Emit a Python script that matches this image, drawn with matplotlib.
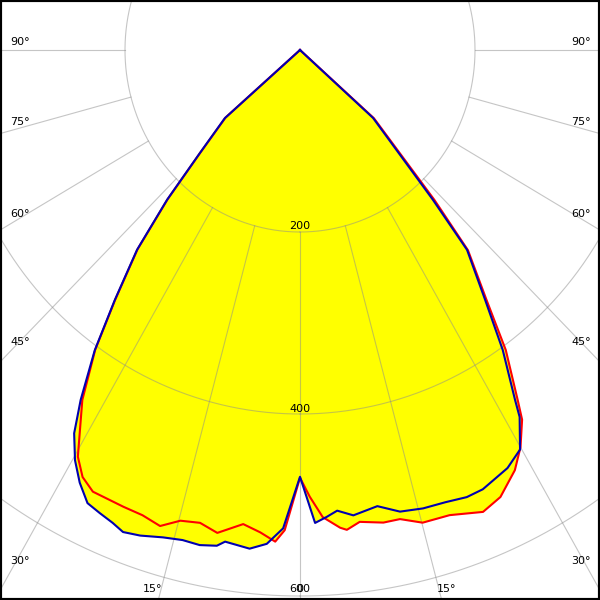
import numpy as np
import matplotlib
matplotlib.use("Agg")
import matplotlib.pyplot as plt

# luminous intensity (cd) vs angle from nadir (deg, negative = left half)
c0_angles = [-90, -52, -48.9, -45.3, -42.7, -40.3, -37.6, -35.4, -32.9, -29.6,
             -27.9, -26.0, -21.9, -19.4, -17.0, -14.8, -12.4, -10.1, -7.1, -4.9, -3.0,
             -1.9, 0, 1.3, 2.9, 5.0, 5.8, 7.5, 10.4, 12.5, 15.1, 18.5, 22.4, 25.0, 28.0,
             30.0, 32.0, 32.9, 35.5, 37.8, 41.1, 43.0, 48.4, 52, 90]
c0_cd = [0, 0, 113, 160, 223, 287, 346, 404, 458, 514,
         531, 540, 541, 542, 547, 535, 532, 539, 525, 532, 541,
         528, 470, 491, 514, 527, 530, 523, 528, 528, 538, 539, 549, 542, 523,
         504, 479, 458, 405, 348, 292, 225, 113, 0, 0]

c90_angles = [-90, -52, -48.9, -45.3, -42.7, -40.3, -37.6, -35.4, -33.1, -31.5,
              -29.7, -27.9, -26.0, -24.2, -22.4, -20.9, -18.9, -16.3, -14.0, -11.9, -9.9,
              -9.0, -6.0, -4.0, -2.1, 0, 1.9, 3.4, 4.8, 6.8, 10.0, 12.7, 15.6, 18.5, 21.2,
              23.4, 27.3, 29.8, 31.9, 32.6, 35.1, 37.6, 41.0, 42.7, 48.2, 52, 90]
c90_cd = [0, 0, 114, 161, 224, 288, 347, 405, 459, 494,
          519, 538, 554, 558, 562, 567, 564, 558, 555, 556, 553,
          547, 551, 544, 526, 469, 520, 514, 508, 515, 509, 520, 523, 524, 527,
          526, 517, 506, 475, 456, 403, 347, 291, 224, 112, 0, 0]

ring_values = [200, 400, 600]
spoke_angles = [-90, -75, -60, -45, -30, -15, 0, 15, 30, 45, 60, 75, 90]

# pixel geometry of the reference (slightly stretched vertically)
W = H = 600
CX, CY = 300, 50
SX, SY = 175 / 200, 182 / 200


def to_xy(deg, cd):
    a = np.radians(np.asarray(deg, dtype=float))
    cd = np.asarray(cd, dtype=float)
    return cd * np.sin(a), -cd * np.cos(a)


def px(xp, yp):
    return (xp - CX) / SX, -(yp - CY) / SY


fig = plt.figure(figsize=(6, 6), dpi=100)
ax = fig.add_axes([0, 0, 1, 1])
x0, y0 = px(0, H)
x1, y1 = px(W, 0)
ax.set_xlim(x0, x1)
ax.set_ylim(y0, y1)
ax.set_xticks([])
ax.set_yticks([])
for s in ax.spines.values():
    s.set_linewidth(3)
    s.set_color("black")

# yellow fill under both curves
for ang, cd in ((c0_angles, c0_cd), (c90_angles, c90_cd)):
    x, y = to_xy(ang, cd)
    ax.fill(x, y, color="#ffff00", lw=0, zorder=1)

# grid
grid_kw = dict(color="#8c8c8c", lw=0.8, alpha=0.5, zorder=2)
t = np.linspace(0, 360, 721)
for r in ring_values:
    x, y = to_xy(t, np.full_like(t, r))
    ax.plot(x, y, **grid_kw)
for a in spoke_angles:
    x, y = to_xy([a, a], [200, 1200])
    ax.plot(x, y, **grid_kw)

# curves
x, y = to_xy(c0_angles, c0_cd)
ax.plot(x, y, color="#ff0000", lw=1.5, zorder=3)
x, y = to_xy(c90_angles, c90_cd)
ax.plot(x, y, color="#0000b0", lw=1.5, zorder=4)

# labels
fs = 8
side_labels = [("90°", 42), ("75°", 122), ("60°", 214), ("45°", 342), ("30°", 561)]
for txt, yp in side_labels:
    ax.text(*px(10, yp), txt, fontsize=fs, ha="left", va="center", zorder=5)
    ax.text(*px(571, yp), txt, fontsize=fs, ha="left", va="center", zorder=5)
ax.text(*px(143, 589), "15°", fontsize=fs, ha="left", va="center", zorder=5)
ax.text(*px(437, 589), "15°", fontsize=fs, ha="left", va="center", zorder=5)
for r, yp in zip(ring_values, [226, 409, 589]):
    ax.text(*px(300, yp), str(r), fontsize=fs, ha="center", va="center", zorder=5)
# the 0° label sits on top of "600", as in the reference
ax.text(*px(300, 589), "0", fontsize=fs, ha="center", va="center", zorder=5)

fig.savefig("out.png", dpi=100)
plt.close(fig)
